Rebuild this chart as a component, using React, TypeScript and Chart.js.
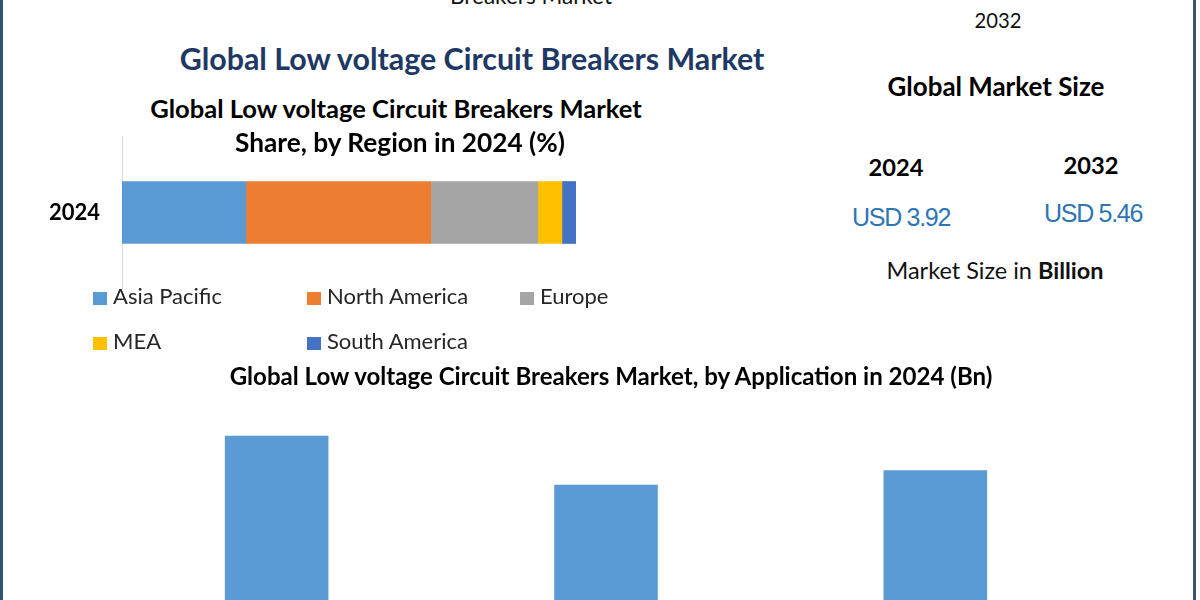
import React, { useEffect, useLayoutEffect, useRef, useState } from "react";
import { Chart, registerables } from "chart.js";
Chart.register(...registerables);

// ---- data ----
const regions = ["Asia Pacific", "North America", "Europe", "MEA", "South America"];
const regionShares = [27.3, 40.7, 23.6, 5.3, 3.1];
const regionColors = ["#5b9bd5", "#ed7d31", "#a5a5a5", "#ffc000", "#4472c4"];
const shareYear = ["2024"];
const applications = ["Application A", "Application B", "Application C"];
const applicationValues = [1.45, 1.18, 1.26];
const sizeYears = ["2024", "2032"];
const sizeValues = ["USD 3.92", "USD 5.46"];

const FONT = "Lato, 'Open Sans', sans-serif";
const NARROW = "'Liberation Sans Narrow', 'Liberation Sans', sans-serif";

type TP = {
  x: number; y: number; size: number; w?: number; bold?: boolean; color?: string;
  align?: "left" | "center" | "right"; family?: string; asc?: number;
  spacing?: number; children: React.ReactNode;
};
function T({ x, y, size, w, bold, color = "#000", align = "center", family = FONT, asc = 0.887, spacing, children }: TP) {
  const ref = useRef<HTMLDivElement>(null);
  const [fs, setFs] = useState(size);
  useLayoutEffect(() => {
    if (!w || !ref.current) return;
    const el = ref.current;
    el.style.fontSize = size + "px";
    const nat = el.getBoundingClientRect().width;
    if (nat > 0) setFs(size * w / nat);
  }, [w, size]);
  const style: React.CSSProperties = {
    position: "absolute", left: x, top: y - asc * fs, fontSize: fs, lineHeight: 1,
    fontFamily: family, fontWeight: bold ? 700 : 400, color, whiteSpace: "nowrap",
    letterSpacing: spacing,
    transform: align === "center" ? "translateX(-50%)" : align === "right" ? "translateX(-100%)" : undefined,
  };
  return <div ref={ref} style={style}>{children}</div>;
}

function ShareChart() {
  const ref = useRef<HTMLCanvasElement>(null);
  useEffect(() => {
    const chart = new Chart(ref.current!, {
      type: "bar",
      data: {
        labels: shareYear,
        datasets: regions.map((r, i) => ({
          label: r, data: [regionShares[i]], backgroundColor: regionColors[i],
          barThickness: 62, borderWidth: 0,
        })),
      },
      options: {
        indexAxis: "y", responsive: false, animation: false,
        layout: { padding: { top: 11, bottom: 11, right: 44, left: 0 } },
        plugins: { legend: { display: false }, tooltip: { enabled: false }, title: { display: false } },
        scales: {
          x: { stacked: true, min: 0, max: 100, display: false },
          y: {
            stacked: true,
            grid: { display: false, drawTicks: false },
            border: { display: true, color: "#d9d9d9", width: 1 },
            ticks: { color: "#000", font: { family: FONT, size: 22, weight: "bold" }, padding: 22 },
            afterFit: (s: any) => { s.width = 122; s.paddingTop = 0; s.paddingBottom = 0; },
          },
        },
      },
    } as any);
    return () => chart.destroy();
  }, []);
  return <canvas ref={ref} width={620} height={175} style={{ position: "absolute", left: 0, top: 125 }} />;
}

function AppChart() {
  const ref = useRef<HTMLCanvasElement>(null);
  useEffect(() => {
    const chart = new Chart(ref.current!, {
      type: "bar",
      data: {
        labels: applications,
        datasets: [{
          label: "2024", data: applicationValues, backgroundColor: "#5b9bd5",
          barPercentage: 0.3146, categoryPercentage: 1, borderWidth: 0,
        }],
      },
      options: {
        responsive: false, animation: false,
        layout: { padding: { top: 6, bottom: 31, left: 112, right: 100 } },
        plugins: { legend: { display: false }, tooltip: { enabled: false } },
        scales: {
          x: { display: false },
          y: { display: false, min: 0, max: 2 },
        },
      },
    } as any);
    return () => chart.destroy();
  }, []);
  return <canvas ref={ref} width={1200} height={400} style={{ position: "absolute", left: 0, top: 330 }} />;
}

export default function App() {
  const legendCols = [93, 307, 520];
  const legendRows = [305, 350];
  return (
    <div style={{ position: "fixed", left: 0, top: 0, width: 1200, height: 600, overflow: "hidden", background: "#fff" }}>
      <AppChart />
      <ShareChart />

      {/* top cut-off texts */}
      <T x={531} y={5} size={21} w={162} color="#111">Breakers Market</T>
      <T x={998} y={28} size={21} w={47} color="#111">2032</T>

      {/* main title */}
      <T x={472} y={70} size={27} w={585} bold color="#203864">Global Low voltage Circuit Breakers Market</T>

      {/* stacked chart title */}
      <T x={396} y={119} size={22} w={492} bold>Global Low voltage Circuit Breakers Market</T>
      <T x={400} y={152} size={22} w={330} bold>Share, by Region in 2024 (%)</T>

      {/* legend */}
      {regions.map((r, i) => {
        const x = legendCols[i % 3];
        const y = legendRows[Math.floor(i / 3)];
        return (
          <React.Fragment key={r}>
            <div style={{ position: "absolute", left: x, top: y - 13, width: 14, height: 13, background: regionColors[i] }} />
            <T x={x + 20} y={y} size={22} align="left" color="#262626">{r}</T>
          </React.Fragment>
        );
      })}

      {/* right panel */}
      <T x={996} y={97} size={23} w={217} bold>Global Market Size</T>
      <T x={896} y={177} size={23} w={55} bold>{sizeYears[0]}</T>
      <T x={1091} y={175} size={23} w={55} bold>{sizeYears[1]}</T>
      <T x={901} y={226} size={25} family={NARROW} asc={0.846} color="#2e75b6" spacing={-1.3}>{sizeValues[0]}</T>
      <T x={1093} y={222} size={25} family={NARROW} asc={0.846} color="#2e75b6" spacing={-1.3}>{sizeValues[1]}</T>
      <T x={995} y={280} size={21} w={217} color="#111">Market Size in <b>Billion</b></T>

      {/* bottom chart title */}
      <T x={611} y={385} size={20} w={763} bold>Global Low voltage Circuit Breakers Market, by Application in 2024 (Bn)</T>

      {/* frame stripes */}
      <div style={{ position: "absolute", left: 0, top: 0, width: 3, height: 600, background: "#2c5477" }} />
      <div style={{ position: "absolute", left: 1193, top: 0, width: 3, height: 600, background: "#3b5669" }} />
    </div>
  );
}
